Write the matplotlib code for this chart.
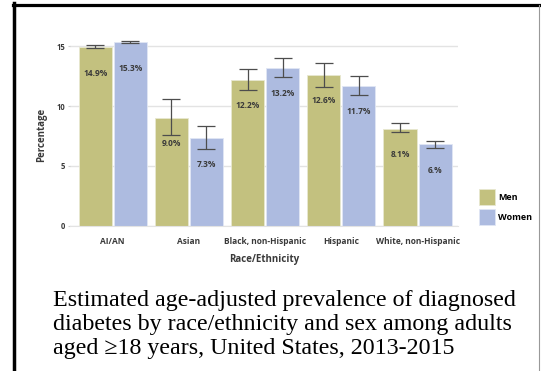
import numpy as np
import matplotlib.pyplot as plt
from matplotlib.lines import Line2D

groups = ['AI/AN', 'Asian', 'Black, non-Hispanic', 'Hispanic', 'White, non-Hispanic']
men = np.array([14.9, 9.0, 12.2, 12.6, 8.1])
women = np.array([15.3, 7.3, 13.2, 11.7, 6.8])
men_lo = np.array([14.8, 7.6, 11.3, 11.6, 7.8])
men_hi = np.array([15.1, 10.6, 13.1, 13.6, 8.55])
women_lo = np.array([15.25, 6.4, 12.4, 10.9, 6.5])
women_hi = np.array([15.4, 8.3, 14.0, 12.5, 7.1])
men_labels = ['14.9%', '9.0%', '12.2%', '12.6%', '8.1%']
women_labels = ['15.3%', '7.3%', '13.2%', '11.7%', '6.%']

caption = ['Estimated age-adjusted prevalence of diagnosed',
           'diabetes by race/ethnicity and sex among adults',
           'aged \u226518 years, United States, 2013-2015']

c_men = '#c3c17f'
c_women = '#adbbe0'
txt = '#3a3a3a'
fnt = 'Open Sans'

fig = plt.figure(figsize=(5.41, 3.71), dpi=100)
ax = fig.add_axes([70/541, 1-226/371, 388/541, 192/371])

x = np.arange(len(groups))
w = 0.435
off = 0.23
b1 = ax.bar(x-off, men, w, color=c_men, edgecolor='#e8e8d0', linewidth=0.6, label='Men', zorder=2)
b2 = ax.bar(x+off, women, w, color=c_women, edgecolor='#e0e6f4', linewidth=0.6, label='Women', zorder=2)
ax.errorbar(x-off, (men_lo+men_hi)/2, yerr=(men_hi-men_lo)/2, fmt='none',
            ecolor='#4d4d4d', elinewidth=0.9, capsize=6.5, capthick=0.9, zorder=3)
ax.errorbar(x+off, (women_lo+women_hi)/2, yerr=(women_hi-women_lo)/2, fmt='none',
            ecolor='#4d4d4d', elinewidth=0.9, capsize=6.5, capthick=0.9, zorder=3)

for i in range(len(groups)):
    ax.text(x[i]-off, men[i]-2.15, men_labels[i], ha='center', va='center',
            fontsize=6, fontweight='bold', color=txt, family=fnt, zorder=4)
    ax.text(x[i]+off, women[i]-2.15, women_labels[i], ha='center', va='center',
            fontsize=6, fontweight='bold', color=txt, family=fnt, zorder=4)

ax.set_xlim(-0.56, 4.53)
ax.set_ylim(0, 16)
ax.set_yticks([0, 5, 10, 15])
ax.set_xticks(x)
ax.set_xticklabels(groups)
ax.grid(axis='y', color='#e3e3e3', linewidth=1, zorder=0)
for s in ['top', 'right', 'left']:
    ax.spines[s].set_visible(False)
ax.spines['bottom'].set_color('#e3e3e3')
ax.tick_params(axis='y', length=1.5, color='#d0d0d0', pad=2, labelsize=5.5, labelcolor=txt)
ax.tick_params(axis='x', length=0, pad=8, labelsize=6, labelcolor=txt)
for lab in ax.get_xticklabels() + ax.get_yticklabels():
    lab.set_fontfamily(fnt)
    lab.set_fontweight('bold')
ax.set_xlabel('Race/Ethnicity', fontsize=7, fontweight='bold', color=txt, family=fnt, labelpad=6)
ax.set_ylabel('Percentage', fontsize=7, fontweight='bold', color=txt, family=fnt)
ax.yaxis.set_label_coords(-0.059, 0.474)

fig.legend(handles=[b1, b2], loc='lower left', bbox_to_anchor=(479/541, 1-225/371),
           frameon=False, borderpad=0, borderaxespad=0, handlelength=1.77, handleheight=2.35,
           labelspacing=0.44, handletextpad=0.33,
           prop={'family': fnt, 'weight': 'bold', 'size': 6.5})

ys = [306, 330, 354]
for line, yb in zip(caption, ys):
    fig.text(53/541, 1-yb/371, line, ha='left', va='baseline',
             fontsize=17.3, family='Liberation Serif', color='black')

# frame around the figure
fig.add_artist(Line2D([14.3/541, 14.3/541], [0, 1-3/371], color='black', lw=2.5, transform=fig.transFigure))
fig.add_artist(Line2D([12.5/541, 1], [1-4.5/371, 1-4.5/371], color='black', lw=2.3, transform=fig.transFigure))
fig.add_artist(Line2D([539/541, 539/541], [0, 1-4.5/371], color='#999999', lw=0.8, transform=fig.transFigure))

fig.savefig('out.png', dpi=100)
